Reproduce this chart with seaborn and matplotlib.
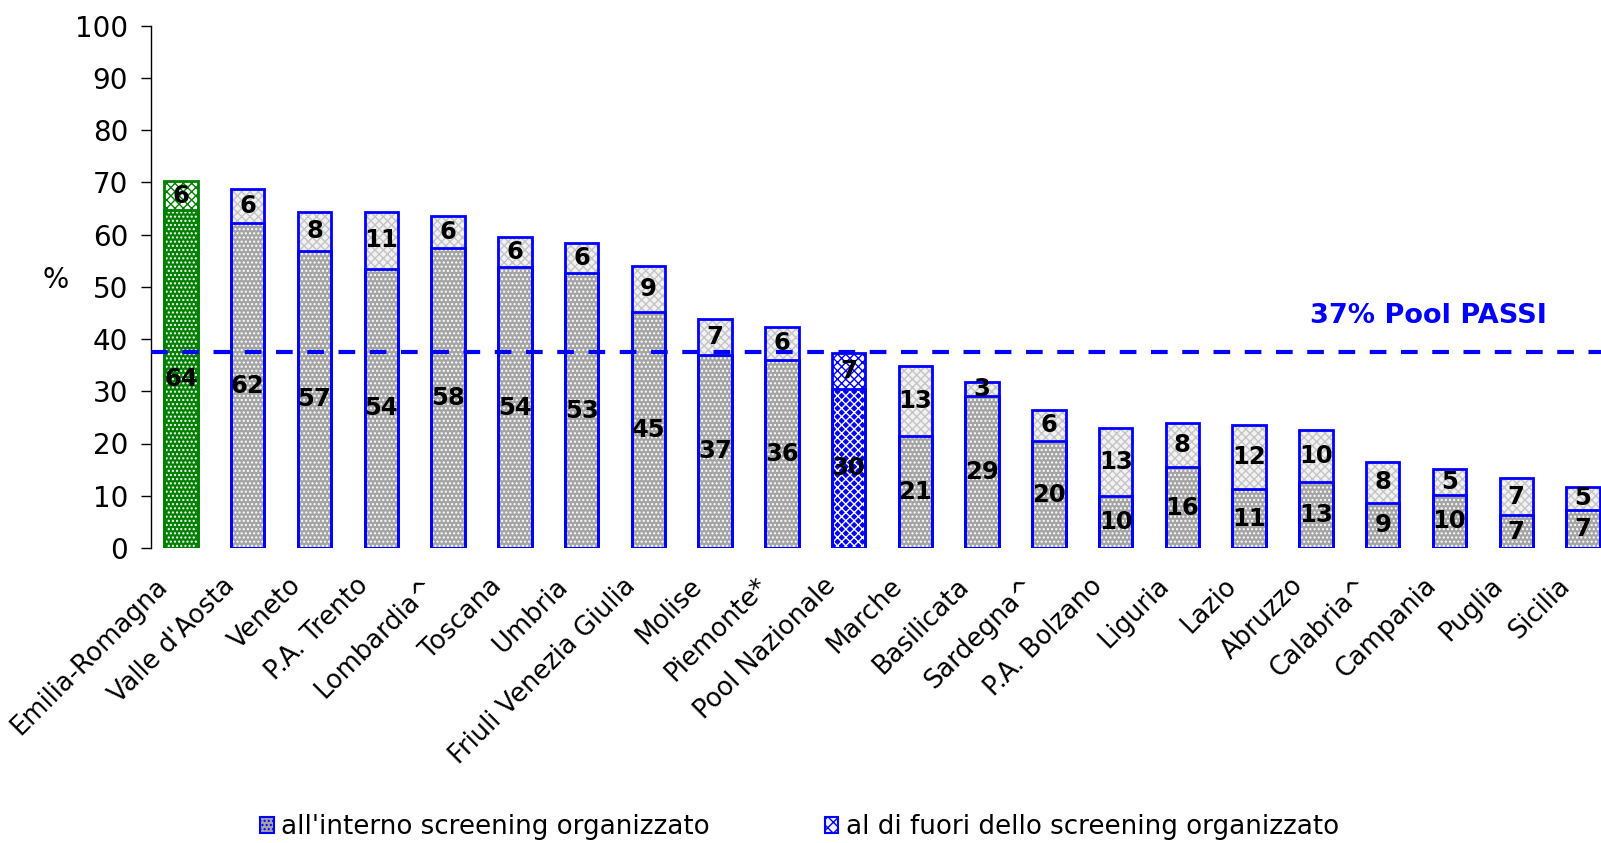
import matplotlib
matplotlib.use("Agg")
import matplotlib.pyplot as plt
import matplotlib.transforms as mtransforms
from matplotlib.patches import Patch
import pandas as pd
import seaborn as sns

# data (%)
regions = ["Emilia-Romagna", "Valle d'Aosta", "Veneto", "P.A. Trento", "Lombardia^",
           "Toscana", "Umbria", "Friuli Venezia Giulia", "Molise", "Piemonte*",
           "Pool Nazionale", "Marche", "Basilicata", "Sardegna^", "P.A. Bolzano",
           "Liguria", "Lazio", "Abruzzo", "Calabria^", "Campania", "Puglia", "Sicilia"]
inside = [64.6, 62.2, 56.9, 53.4, 57.4, 53.7, 52.6, 45.1, 37.0, 36.0,
          30.5, 21.4, 29.1, 20.4, 9.9, 15.5, 11.2, 12.6, 8.7, 10.2, 6.3, 7.3]
total = [70.2, 68.7, 64.4, 64.4, 63.5, 59.6, 58.3, 54.0, 43.9, 42.3,
         37.4, 34.8, 31.7, 26.5, 23.0, 23.9, 23.5, 22.5, 16.4, 15.1, 13.4, 11.7]
inside_lbl = [64, 62, 57, 54, 58, 54, 53, 45, 37, 36, 30, 21, 29, 20, 10, 16, 11, 13, 9, 10, 7, 7]
outside_lbl = [6, 6, 8, 11, 6, 6, 6, 9, 7, 6, 7, 13, 3, 6, 13, 8, 12, 10, 8, 5, 7, 5]
pool_value = 37.6
legend_labels = ["all'interno screening organizzato", "al di fuori dello screening organizzato"]

df = pd.DataFrame({"region": regions, "inside": inside, "total": total})

sns.set_style("white")
plt.rcParams["font.family"] = ["DejaVu Sans"]
plt.rcParams["hatch.linewidth"] = 1.0
for k in ("text.color", "axes.labelcolor", "xtick.color", "ytick.color"):
    plt.rcParams[k] = "black"

BLUE = "#0000ff"
GREEN = "#008000"
edge_cols = [GREEN if r == "Emilia-Romagna" else BLUE for r in regions]
low_face = [GREEN if r == "Emilia-Romagna" else (BLUE if r == "Pool Nazionale" else "#a4a4a4")
            for r in regions]
up_face = ["#ffffff" if r in ("Emilia-Romagna", "Pool Nazionale") else "#f2f2f2" for r in regions]
up_hatch_col = [GREEN if r == "Emilia-Romagna" else (BLUE if r == "Pool Nazionale" else "#c4c4c4")
                for r in regions]

fig = plt.figure(figsize=(16.01, 8.43), dpi=100)
ax = fig.add_axes([151 / 1601, 1 - 548 / 843, 1 - 151 / 1601, (548 - 25.5) / 843])

bw = 0.5
# upper segment = whole bar, lower segment drawn on top
sns.barplot(data=df, x="region", y="total", ax=ax, width=bw, color="white")
n = len(regions)
for i, p in enumerate(ax.patches[:n]):
    p.set_facecolor(up_face[i])
    p.set_edgecolor(up_hatch_col[i])
    p.set_hatch("xxxx")
    p.set_linewidth(0)

sns.barplot(data=df, x="region", y="inside", ax=ax, width=bw, color="grey")
for i, p in enumerate(ax.patches[n:2 * n]):
    p.set_facecolor(low_face[i])
    p.set_edgecolor("white")
    p.set_hatch("xxxx" if regions[i] == "Pool Nazionale" else "....")
    p.set_linewidth(0)

# outlines
sns.barplot(data=df, x="region", y="total", ax=ax, width=bw, hue="region",
            palette=edge_cols, fill=False, linewidth=2.0, legend=False)
sns.barplot(data=df, x="region", y="inside", ax=ax, width=bw, hue="region",
            palette=edge_cols, fill=False, linewidth=2.0, legend=False)

# value labels
for i in range(n):
    ax.text(i, inside[i] / 2, str(inside_lbl[i]), ha="center", va="center",
            fontsize=17.5, fontweight="bold", color="black", zorder=5)
    ax.text(i, (inside[i] + total[i]) / 2, str(outside_lbl[i]), ha="center", va="center",
            fontsize=17.5, fontweight="bold", color="black", zorder=5)

ax.axhline(pool_value, color=BLUE, lw=3.0, ls=(0, (4, 3.5)), zorder=6)
ax.text(18.68, 44.4, "37% Pool PASSI", ha="center", va="center", color=BLUE,
        fontsize=19.5, fontweight="bold")

ax.set_ylim(0, 100)
ax.set_xlim(-0.45, 21.27)
ax.set_yticks(range(0, 101, 10))
ax.tick_params(axis="y", labelsize=20, length=7, width=1, direction="out", left=True, pad=9.5)
ax.tick_params(axis="x", length=0, labelsize=18.5, pad=24.5)
for s in ("top", "right", "bottom"):
    ax.spines[s].set_visible(False)
ax.spines["left"].set_color("black")
ax.spines["left"].set_linewidth(1)

ax.set_xlabel("")
ax.set_ylabel("%", rotation=0, fontsize=20, va="center", ha="center")
ax.yaxis.set_label_coords(-0.066, 0.512)

offset = mtransforms.ScaledTranslation(-17 / 100, 0, fig.dpi_scale_trans)
for lbl in ax.get_xticklabels():
    lbl.set_rotation(45)
    lbl.set_ha("right")
    lbl.set_va("center")
    lbl.set_rotation_mode("anchor")
    lbl.set_transform(lbl.get_transform() + offset)

handles = [Patch(facecolor="#a4a4a4", edgecolor=BLUE, hatch="....", linewidth=1.5),
           Patch(facecolor="#f2f2f2", edgecolor=BLUE, hatch="xxx", linewidth=1.5)]
fig.legend(handles, legend_labels, loc="center left", bbox_to_anchor=(250 / 1601, 1 - 827 / 843),
           ncol=2, frameon=False, fontsize=18.8, handlelength=0.5, handleheight=0.6,
           handletextpad=0.3, columnspacing=4.4, borderaxespad=0)

fig.savefig("out.png", dpi=100)
